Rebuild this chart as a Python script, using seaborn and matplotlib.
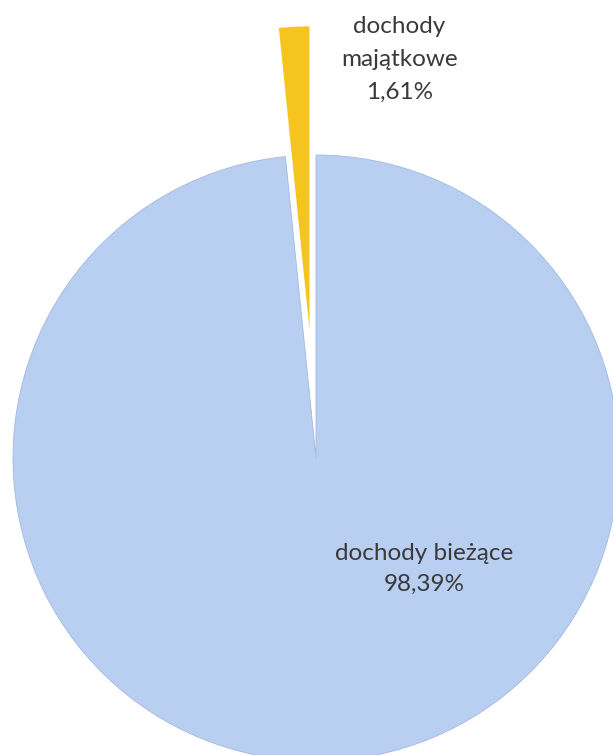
import seaborn as sns
import matplotlib.pyplot as plt

# data
categories = ['dochody majątkowe', 'dochody bieżące']
shares = [1.61, 98.39]
label_names = ['dochody\nmajątkowe', 'dochody bieżące']
colors = ['#F6C41E', '#B8CFF1']

sns.set_theme(style='white')
plt.rcParams['font.family'] = ['Lato', 'DejaVu Sans']

fig = plt.figure(figsize=(6.13, 7.55), dpi=100)
ax = fig.add_axes([0, 0, 1, 1])

wedges, _ = ax.pie(shares, colors=colors, startangle=90, counterclock=True,
                   explode=[0.425, 0], radius=1.0, center=(0, 0),
                   wedgeprops=dict(linewidth=0))

# faint edge on the big slice (darker line along the cut in the original)
wedges[1].set_edgecolor('#a3b9de')
wedges[1].set_linewidth(0.6)

# pixel-based limits: center at (316, 458) px from top-left, radius 303 px
ax.set_xlim(-316 / 303, (613 - 316) / 303)
ax.set_ylim(-(755 - 458) / 303, 458 / 303)
ax.set_aspect('auto')
ax.axis('off')

label_pos = [(0.275, 1.315), (0.356, -0.365)]
label_spacing = [1.68, 1.58]
for name, val, (x, y), ls in zip(label_names, shares, label_pos, label_spacing):
    txt = f'{name}\n{val:.2f}%'.replace('.', ',')
    ax.text(x, y, txt, ha='center', va='center', fontsize=17.5,
            color='#3a3a3a', linespacing=ls)

fig.savefig('out.png', dpi=100, facecolor='white')
